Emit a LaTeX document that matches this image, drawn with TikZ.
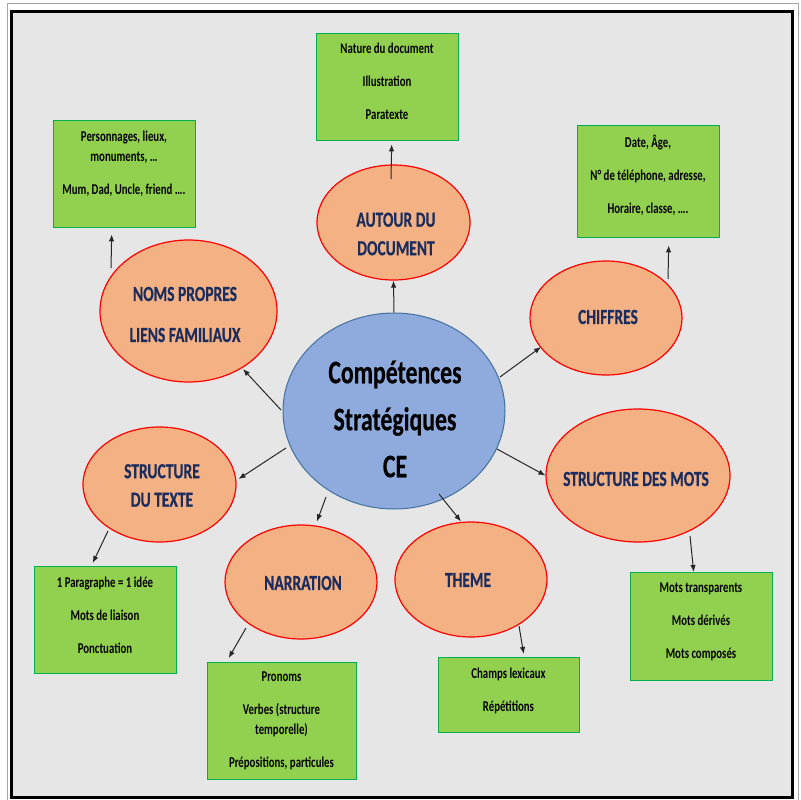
\documentclass[tikz,border=0pt]{standalone}
\usepackage{fontspec}
\newfontfamily\cf{Carlito}[FakeStretch=0.72]
\newfontfamily\cfb{Carlito}[FakeStretch=0.72,FakeBold=0.4]
\usetikzlibrary{shapes.geometric,arrows.meta,calc}
\definecolor{bgc}{HTML}{E6E6E6}
\definecolor{salmon}{HTML}{F4B183}
\definecolor{navy}{HTML}{1A2D5E}
\definecolor{cblue}{HTML}{8FAADC}
\definecolor{cblueline}{HTML}{41719C}
\definecolor{gfill}{HTML}{92D050}
\definecolor{gline}{HTML}{00B050}
\begin{document}
\begin{tikzpicture}[x=1pt,y=-1pt,
 oval/.style={ellipse, draw=red, line width=1.2pt, fill=salmon, inner sep=0pt},
 gbox/.style={rectangle, draw=gline, line width=1.4pt, fill=gfill, inner sep=0pt, anchor=north west},
 otext/.style={font=\cfb\bfseries\fontsize{21.5}{28.5}\selectfont, text=navy, align=center, inner sep=0pt},
 gtext/.style={font=\cf\bfseries\fontsize{15}{20.5}\selectfont, text=black, align=center, inner sep=0pt},
 ctext/.style={font=\cfb\bfseries\fontsize{33}{47}\selectfont, text=black, align=center, inner sep=0pt},
 arr/.style={-{Latex[length=7pt,width=5.5pt]}, line width=1pt, draw=black!85},
]
\useasboundingbox (0,0) rectangle (801,800);
\fill[white] (0,0) rectangle (801,800);
\draw[gray!70, line width=1pt] (7.5,3.5) rectangle (798.5,801);
\draw[black, line width=3.5pt, fill=bgc] (11.5,11.5) rectangle (792.5,797.5);

% central ellipse
\node[ellipse, draw=cblueline, line width=1pt, fill=cblue, inner sep=0pt,
      minimum width=222pt, minimum height=196pt] (c) at (394,411) {};
\node[ctext] (cT) at (395,419) {Compétences\\Stratégiques\\CE};

% outer ellipses
\node[oval, minimum width=153pt, minimum height=115pt] (autour) at (393.5,222.5) {};
\node[otext] (autourT) at (396,234) {AUTOUR DU\\DOCUMENT};
\node[oval, minimum width=177pt, minimum height=142pt] (noms) at (188.5,311) {};
\node[otext] (nomsT) at (185,314.5) {NOMS PROPRES\\[12.5pt]LIENS FAMILIAUX};
\node[oval, minimum width=152pt, minimum height=114pt] (chiffres) at (606,318) {};
\node[otext] (chiffresT) at (608,317) {CHIFFRES};
\node[oval, minimum width=184pt, minimum height=133pt] (sdm) at (638,475.5) {};
\node[otext] (sdmT) at (636,479) {STRUCTURE DES MOTS};
\node[oval, minimum width=152pt, minimum height=115pt] (theme) at (471,579.5) {};
\node[otext] (themeT) at (468,580) {THEME};
\node[oval, minimum width=152pt, minimum height=114pt] (narration) at (301,582) {};
\node[otext] (narrationT) at (303,583) {NARRATION};
\node[oval, minimum width=153pt, minimum height=115pt] (sdt) at (159.5,484.5) {};
\node[otext] (sdtT) at (162,485.5) {STRUCTURE\\DU TEXTE};

% green boxes
\node[gbox, minimum width=142pt, minimum height=107pt] (bdoc) at (316,33) {};
\node[gtext] (bdocT) at (387,81.5) {Nature du document\\[12.5pt]Illustration\\[12.5pt]Paratexte};
\node[gbox, minimum width=142pt, minimum height=107pt] (bnoms) at (53,120) {};
\node[gtext] (bnomsT) at (124,164) {Personnages, lieux,\\monuments, …\\[12.5pt]Mum, Dad, Uncle, friend ….};
\node[gbox, minimum width=142pt, minimum height=112pt] (bchif) at (577,125) {};
\node[gtext] (bchifT) at (648,175.5) {Date, Âge,\\[12.5pt]N° de téléphone, adresse,\\[12.5pt]Horaire, classe, ….};
\node[gbox, minimum width=142pt, minimum height=108pt] (bmots) at (630,572) {};
\node[gtext] (bmotsT) at (701,622) {Mots transparents\\[12.5pt]Mots dérivés\\[12.5pt]Mots composés};
\node[gbox, minimum width=141pt, minimum height=75pt] (btheme) at (438,657) {};
\node[gtext] (bthemeT) at (508.5,690.5) {Champs lexicaux\\[12.5pt]Répétitions};
\node[gbox, minimum width=149pt, minimum height=117pt] (bnarr) at (207,662) {};
\node[gtext] (bnarrT) at (281.5,721) {Pronoms\\[12.5pt]Verbes (structure\\temporelle)\\[12.5pt]Prépositions, particules};
\node[gbox, minimum width=142pt, minimum height=107pt] (bsdt) at (34,566) {};
\node[gtext] (bsdtT) at (105,615.5) {1 Paragraphe = 1 idée\\[12.5pt]Mots de liaison\\[12.5pt]Ponctuation};

% arrows
\draw[arr] (c.north) -- (autour.south);
\draw[arr] ($(autour.center)+(-2.5,-43.5)$) -- ($(bdoc.south)+(4,3)$);
\draw[arr] ($(noms.center)+(-77.5,-43)$) -- ($(bnoms.south)+(-13,6)$);
\draw[arr] ($(c.center)+(-113,-1)$) -- ($(noms.center)+(54.5,58)$);
\draw[arr] ($(c.center)+(106,-34)$) -- ($(chiffres.center)+(-65,29)$);
\draw[arr] ($(chiffres.center)+(62,-39)$) -- ($(bchif.south)+(20,7)$);
\draw[arr] ($(c.center)+(103,38)$) -- (sdm.west);
\draw[arr] ($(sdm.center)+(52,60.5)$) -- ($(bmots.north)+(-8,0)$);
\draw[arr] ($(c.center)+(45,83)$) -- ($(theme.north)+(-10,0)$);
\draw[arr] ($(theme.center)+(48,46.5)$) -- ($(btheme.north)+(14.5,-3)$);
\draw[arr] ($(c.center)+(-68,86)$) -- ($(narration.north)+(16,-3)$);
\draw[arr] ($(narration.center)+(-55,46)$) -- ($(bnarr.north)+(-53.5,-4)$);
\draw[arr] ($(c.center)+(-108,37)$) -- ($(sdt.east)+(2,-5.5)$);
\draw[arr] ($(sdt.center)+(-51.5,46.5)$) -- ($(bsdt.north)+(-13,-3)$);
\end{tikzpicture}
\end{document}
